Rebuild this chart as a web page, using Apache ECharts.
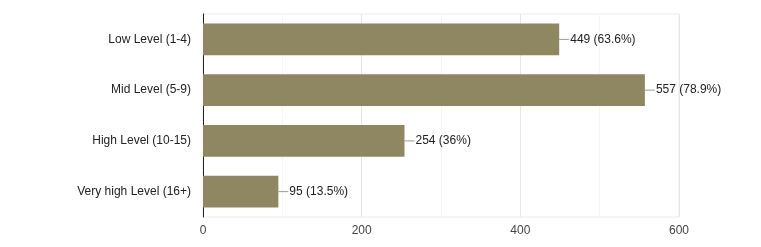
<!DOCTYPE html>
<html><head><meta charset="utf-8">
<script src="https://cdn.jsdelivr.net/npm/echarts@6/dist/echarts.min.js"></script>
<style>html,body{margin:0;padding:0;background:#fff}#c{width:761px;height:247px}</style>
</head><body><div id="c"></div>
<script>
var categories = ['Low Level (1-4)', 'Mid Level (5-9)', 'High Level (10-15)', 'Very high Level (16+)'];
var counts = [449, 557, 254, 95];
var percents = ['63.6%', '78.9%', '36%', '13.5%'];
var xTicks = [0, 200, 400, 600];

var chart = echarts.init(document.getElementById('c'), null, {renderer: 'canvas'});
chart.setOption({
  backgroundColor: '#fff',
  animation: false,
  grid: {left: 203, right: 82, top: 14, bottom: 30, show: true, borderColor: '#ececec', borderWidth: 1},
  xAxis: {
    type: 'value', min: xTicks[0], max: xTicks[xTicks.length - 1], interval: 200,
    axisLine: {show: false}, axisTick: {show: false},
    axisLabel: {color: '#444', fontFamily: 'Liberation Sans, Arial', fontSize: 12, margin: 8},
    splitLine: {show: true, lineStyle: {color: '#e6e6e6'}},
    minorTick: {show: false, splitNumber: 2},
    minorSplitLine: {show: true, lineStyle: {color: '#f6f6f6'}}
  },
  yAxis: {
    type: 'category', data: categories, inverse: true,
    axisLine: {show: true, lineStyle: {color: '#222', width: 1}},
    axisTick: {show: false},
    axisLabel: {color: '#222', fontFamily: 'Liberation Sans, Arial', fontSize: 12, margin: 12}
  },
  series: [{
    type: 'bar', data: counts, barCategoryGap: '37.5%',
    itemStyle: {color: '#8f8762'},
    label: {
      show: true, position: 'right', distance: 0,
      fontFamily: 'Liberation Sans, Arial', fontSize: 12, color: '#222',
      formatter: function (p) { return '{ln|}{t|' + counts[p.dataIndex] + ' (' + percents[p.dataIndex] + ')}'; },
      rich: {
        ln: {width: 10, height: 1, backgroundColor: '#999', verticalAlign: 'middle'},
        t: {color: '#222', fontSize: 12, fontFamily: 'Liberation Sans, Arial', padding: [0, 0, 0, 1]}
      }
    }
  }]
});
</script></body></html>
